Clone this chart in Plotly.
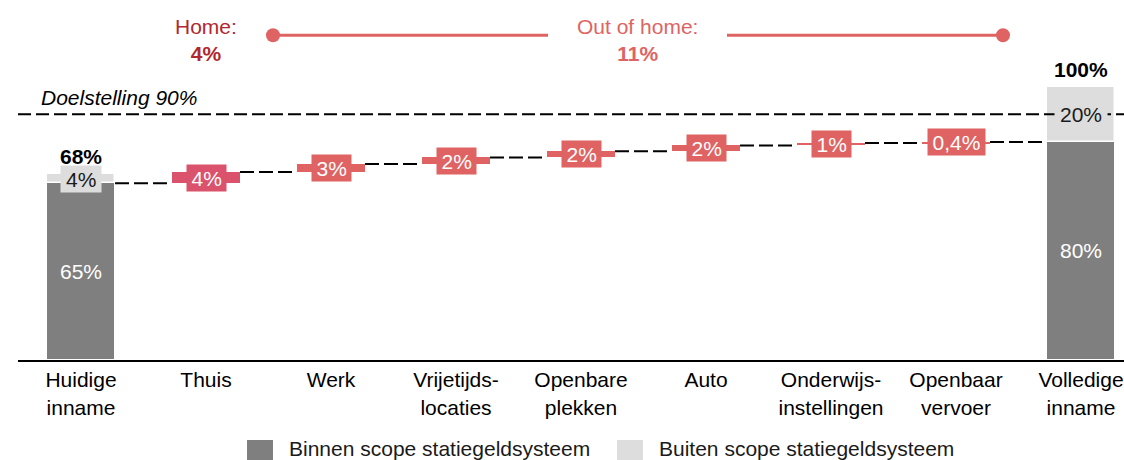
import plotly.graph_objects as go

# ---------------- data ----------------
categories = ["Huidige<br>inname", "Thuis", "Werk", "Vrijetijds-<br>locaties",
              "Openbare<br>plekken", "Auto", "Onderwijs-<br>instellingen",
              "Openbaar<br>vervoer", "Volledige<br>inname"]
total_bars = [0, 8]                      # index of the two full bars
binnen_values = [64.8, 80.0]
buiten_values = [3.3, 20.0]
binnen_labels = ["65%", "80%"]
buiten_labels = ["4%", "20%"]
total_labels = ["68%", "100%"]
step_values = [4.1, 2.9, 2.4, 2.3, 2.1, 0.9, 0.4]
step_labels = ["4%", "3%", "2%", "2%", "2%", "1%", "0,4%"]
target_value = 90
target_label = "Doelstelling 90%"
home_text, home_value = "Home:", "4%"
ooh_text, ooh_value = "Out of home:", "11%"
legend_names = ["Binnen scope statiegeldsysteem", "Buiten scope statiegeldsysteem"]

# ---------------- style ----------------
W, H = 1124, 460
L, R, T, B = 18, 0, 0, 100
FONT = "Arial, Liberation Sans, sans-serif"
FS = 21
DARK = "#7f7f7f"
LIGHT = "#dddddd"
RED = "#e06363"
THUIS = "#da526b"
HOME_TXT = "#b0282e"
BW = 0.544
Y_MAX = 131.9


def xp(px):
    return (px - L) / (W - L - R)


def yp(py):
    return (H - B - py) / (H - T - B)


def text_w(s, bold=False):
    w = {"%": 0.889, ",": 0.278}
    return sum(w.get(c, 0.556) for c in s) * FS


positions = list(range(len(categories)))
step_x = positions[1:-1]
cum = [binnen_values[0]]
for v in step_values:
    cum.append(cum[-1] + v)
step_base = cum[:-1]

fig = go.Figure()
fig.add_trace(go.Bar(x=total_bars, y=binnen_values, width=BW, marker_color=DARK,
                     marker_line=dict(color="white", width=1), name=legend_names[0],
                     showlegend=False))
fig.add_trace(go.Bar(x=total_bars, y=buiten_values, base=binnen_values, width=BW,
                     marker_color=LIGHT, marker_line=dict(color="white", width=1.5),
                     name=legend_names[1], showlegend=False))
fig.add_trace(go.Bar(x=step_x, y=step_values, base=step_base, width=BW,
                     marker_color=[THUIS] + [RED] * (len(step_values) - 1),
                     marker_line_width=0, showlegend=False))

shapes = []
ann = []

# target line
shapes.append(dict(type="line", xref="paper", yref="y", x0=0, x1=1,
                   y0=target_value, y1=target_value,
                   line=dict(color="black", width=2, dash="13px,5px"), layer="above"))
ann.append(dict(xref="paper", yref="y", x=xp(39), y=target_value, yshift=17,
                xanchor="left", yanchor="middle", showarrow=False,
                text=f"<i>{target_label}</i>", font=dict(size=FS, color="black")))

# connectors
levels = cum
for i, lv in enumerate(levels):
    x0 = positions[i] + BW / 2
    x1 = positions[i + 1] - BW / 2
    shapes.append(dict(type="line", xref="x", yref="y", x0=x0, x1=x1, y0=lv, y1=lv,
                       line=dict(color="black", width=2, dash="14px,5px"), layer="above"))

# step labels
for x, b, v, lab, col in zip(step_x, step_base, step_values, step_labels,
                             [THUIS] + [RED] * (len(step_values) - 1)):
    ann.append(dict(x=x, y=b + v / 2, text=lab, showarrow=False,
                    font=dict(size=FS, color="white"), bgcolor=col,
                    width=text_w(lab) + 9, height=26, borderpad=0))

# total bar labels
for x, bi, bu, lbi, lbu, lt in zip(total_bars, binnen_values, buiten_values,
                                   binnen_labels, buiten_labels, total_labels):
    ann.append(dict(x=x, y=bi / 2, text=lbi, showarrow=False,
                    font=dict(size=FS, color="white")))
    ann.append(dict(x=x, y=bi + bu / 2, text=lbu, showarrow=False,
                    font=dict(size=FS, color="#1a1a1a"), bgcolor=LIGHT,
                    width=text_w(lbu) + 10, height=26, borderpad=0))
    ann.append(dict(x=x, y=bi + bu, yshift=4, yanchor="bottom", text=f"<b>{lt}</b>",
                    showarrow=False, font=dict(size=FS, color="black")))

# bracket at top
BR_Y = 119.0
br_x0, br_x1 = 1.536, 7.376
gap0, gap1 = 3.736, 5.168
for a, b in [(br_x0, gap0), (gap1, br_x1)]:
    shapes.append(dict(type="line", xref="x", yref="y", x0=a, x1=b, y0=BR_Y, y1=BR_Y,
                       line=dict(color=RED, width=3)))
for c in (br_x0, br_x1):
    shapes.append(dict(type="circle", xref="x", yref="y", xsizemode="pixel",
                       ysizemode="pixel", xanchor=c, yanchor=BR_Y, x0=-7, x1=7,
                       y0=-7, y1=7, fillcolor=RED, line=dict(color=RED, width=0)))
ann.append(dict(x=1, y=BR_Y, yshift=-5, text=f"{home_text}<br><b>{home_value}</b>",
                showarrow=False, font=dict(size=FS, color=HOME_TXT)))
ann.append(dict(x=(gap0 + gap1) / 2, y=BR_Y, yshift=-5,
                text=f"{ooh_text}<br><b>{ooh_value}</b>",
                showarrow=False, font=dict(size=FS, color=RED)))

# manual legend
for (bx, tx), col, name in zip([(247, 287), (617, 657)], [DARK, LIGHT], legend_names):
    shapes.append(dict(type="rect", xref="paper", yref="paper", x0=xp(bx), x1=xp(bx + 26),
                       y0=yp(461), y1=yp(440), fillcolor=col, line_width=0))
    ann.append(dict(xref="paper", yref="paper", x=xp(tx), y=yp(448), xanchor="left",
                    yanchor="middle", text=name, showarrow=False,
                    font=dict(size=FS, color="#1a1a1a")))

fig.update_layout(
    width=W, height=H, margin=dict(l=L, r=R, t=T, b=B),
    plot_bgcolor="white", paper_bgcolor="white",
    font=dict(family=FONT, size=FS, color="black"),
    barmode="overlay", bargap=0, showlegend=False,
    shapes=shapes, annotations=ann,
    xaxis=dict(range=[-0.504, 8.344], tickvals=positions, ticktext=categories,
               showline=True, linecolor="black", linewidth=2, showgrid=False,
               zeroline=False, ticks="", tickfont=dict(size=FS, color="black")),
    yaxis=dict(range=[0, Y_MAX], visible=False, showgrid=False, zeroline=False),
)

fig.write_html("out.html", config={"displayModeBar": False},
               post_script="document.body.style.margin='0';document.body.style.overflow='hidden';")
